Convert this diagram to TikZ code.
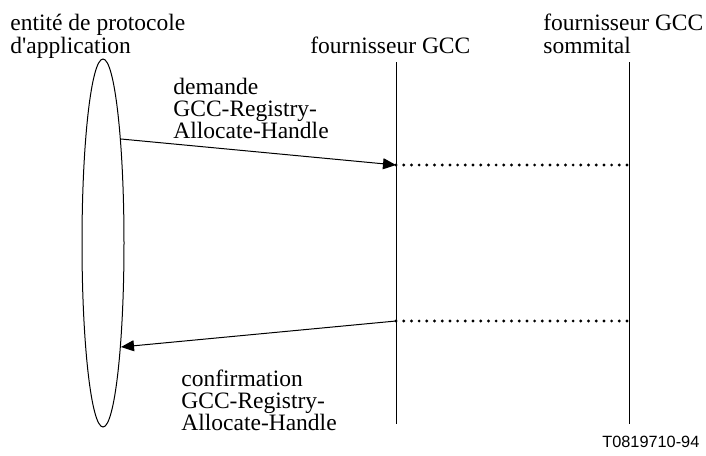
\documentclass[tikz,border=0pt]{standalone}
\usepackage{fontspec}
\newfontfamily\plainserif{Liberation Serif}
\newfontfamily\labelsans{Liberation Sans}
\usetikzlibrary{arrows.meta,shapes.geometric}
\begin{document}
\begin{tikzpicture}[x=0.5pt,y=-0.5pt,
  % base anchor of a multi-line node sits on its last line
  txt/.style={anchor=base west,inner sep=0pt,align=left,
    font=\plainserif\fontsize{11.75pt}{11pt}\selectfont},
  life/.style={line width=0.5pt},
  msg/.style={line width=0.5pt,-{Triangle[length=6.5pt,width=5.5pt]}},
  relay/.style={line width=1.6pt,line cap=round,dash pattern=on 0pt off 3.85pt}]
\useasboundingbox (0,0) rectangle (706,455);

% application protocol entity
\node[draw,line width=0.5pt,ellipse,inner sep=0pt,
  minimum width=21pt,minimum height=184pt] (ent) at (103,243) {};
\node[txt] (entlbl) at (10,53) {entité de protocole\\d'application};

% lifelines
\coordinate (gtop) at (396,62);
\coordinate (gbot) at (396,424);
\coordinate (stop) at (629,62);
\coordinate (sbot) at (629,424);
\draw[life] (gtop) -- (gbot);
\draw[life] (stop) -- (sbot);
\node[txt] (glbl) at (310,53) {fournisseur GCC};
\node[txt] (slbl) at (543,53) {fournisseur GCC\\sommital};

% message end points
\coordinate (reqsrc) at (121,139);
\coordinate (reqdst) at (396,165);
\coordinate (reqtop) at (629,165);
\coordinate (cnftop) at (629,321);
\coordinate (cnfsrc) at (396,321);
\coordinate (cnfdst) at (121,347);

% request
\draw[msg] (reqsrc) -- (reqdst);
\draw[relay] (reqdst) -- (reqtop);
\node[txt] (reqlbl) at (173,138) {demande\\GCC-Registry-\\Allocate-Handle};

% confirm
\draw[relay] (cnfsrc) -- (cnftop);
\draw[msg] (cnfsrc) -- (cnfdst);
\node[txt] (cnflbl) at (181,430) {confirmation\\GCC-Registry-\\Allocate-Handle};

% figure reference
\node[anchor=base west,inner sep=0pt,font=\labelsans\fontsize{8.15pt}{9pt}\selectfont]
  (ref) at (602,447) {T0819710-94};
\end{tikzpicture}
\end{document}
